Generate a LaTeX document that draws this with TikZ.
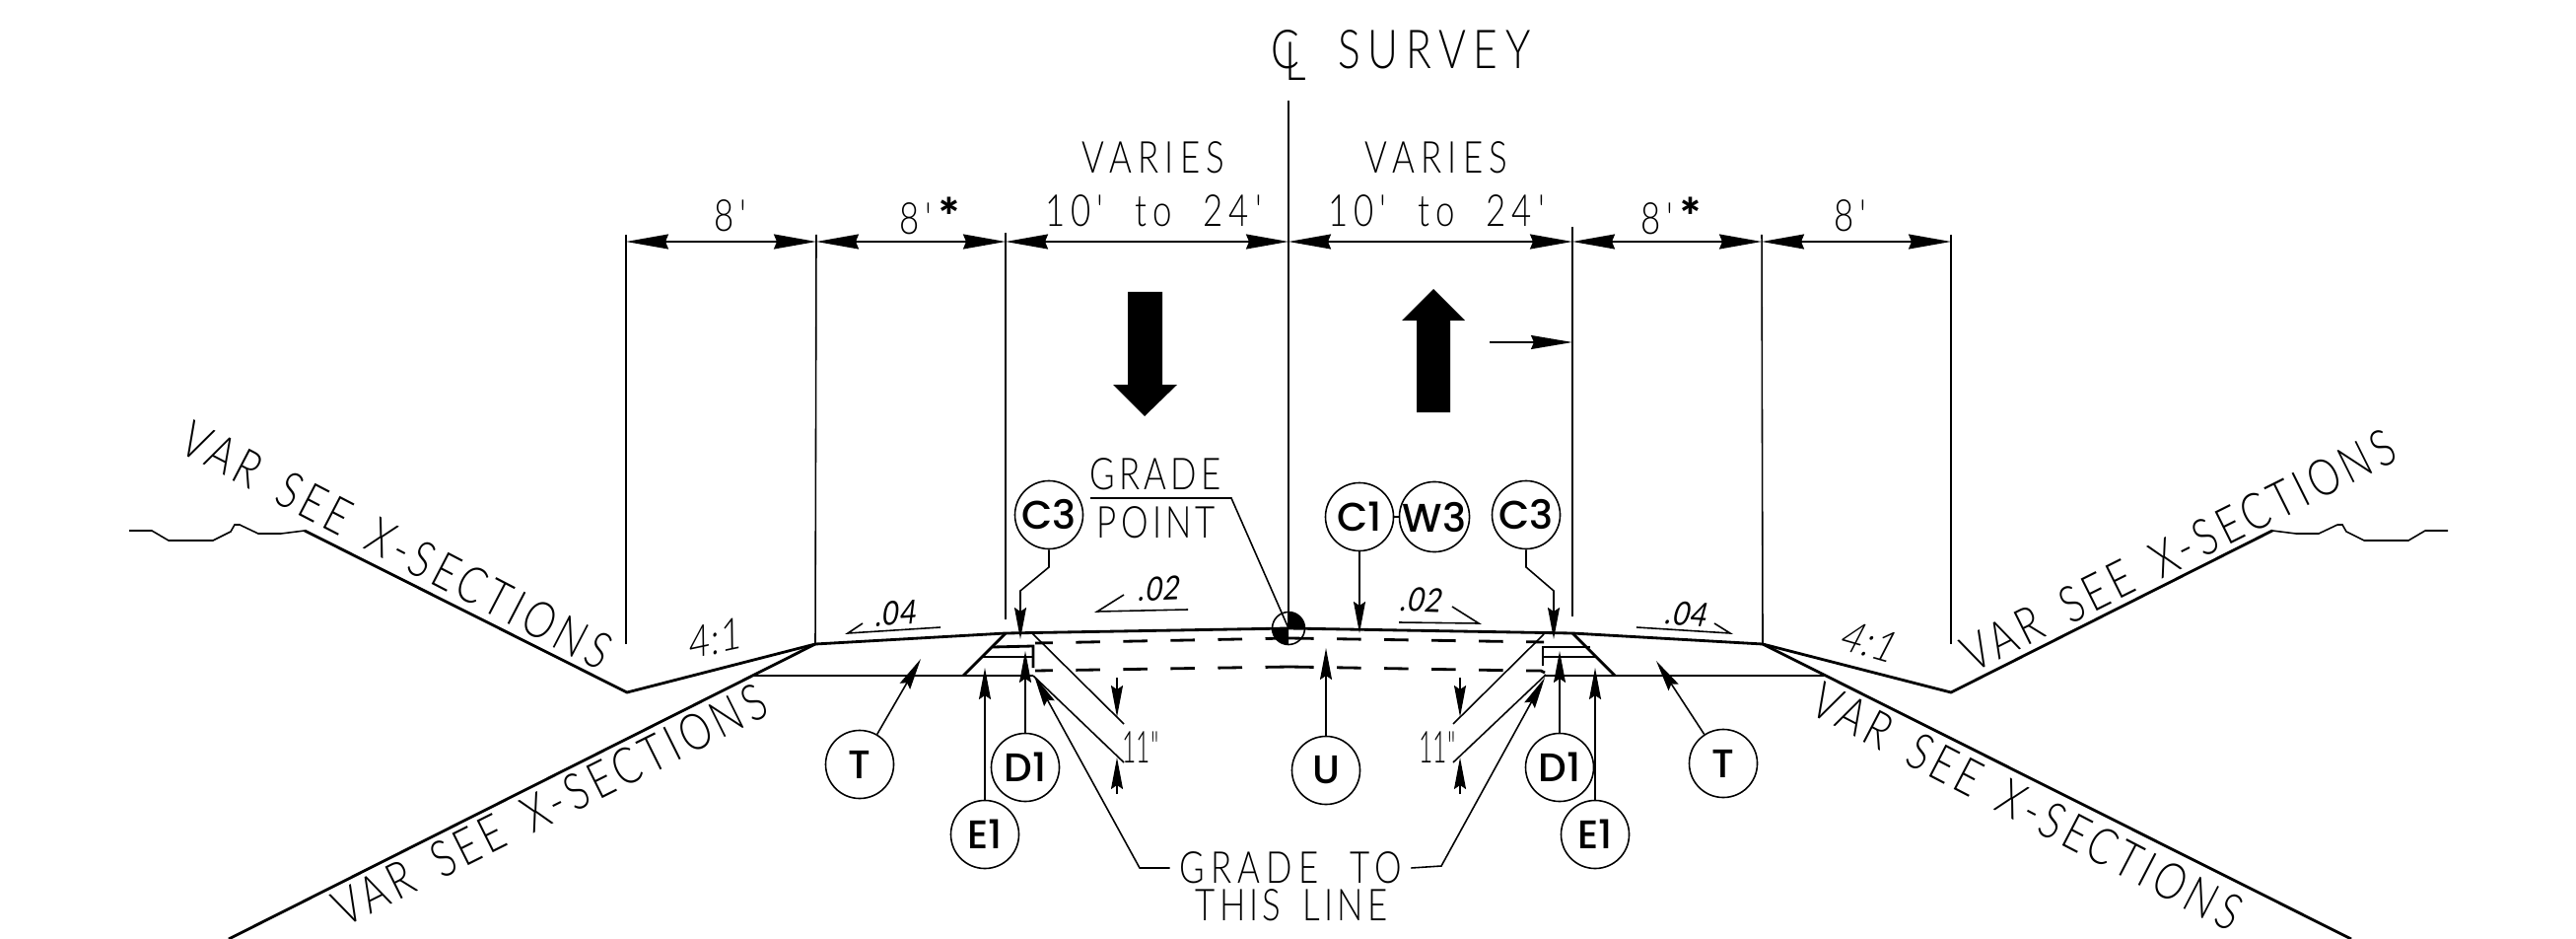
\documentclass[tikz,border=0pt]{standalone}
\usepackage{fontspec}
\usetikzlibrary{arrows.meta}
\newfontfamily\cadfont[FakeStretch=0.78,LetterSpace=14,WordSpace=2]{Lato Light}
\newfontfamily\notefont[FakeStretch=0.78,LetterSpace=9.5,WordSpace=1.6]{Lato Light}
\newfontfamily\depthfont[FakeStretch=0.55]{Lato Light}
\newfontfamily\slopefont[FakeStretch=0.85,LetterSpace=3,FakeSlant=0.2]{Lato}
\newfontfamily\ratiofont[FakeStretch=0.85,LetterSpace=3,FakeSlant=0.2]{Lato Light}
\newfontfamily\tagfont{Poppins Medium}
\newfontfamily\starfont{Lato Black}
\tikzset{
  thinln/.style={line width=0.45pt},
  baseln/.style={line width=0.6pt},
  roadln/.style={line width=0.8pt},
  dimln/.style={thinln,{Stealth[length=0.43cm,width=0.15cm,inset=0.03cm]}-{Stealth[length=0.43cm,width=0.15cm,inset=0.03cm]}},
  flagln/.style={thinln,-{Stealth[length=0.42cm,width=0.14cm,inset=0.03cm]}},
  leader/.style={thinln,-{Stealth[length=0.32cm,width=0.12cm,inset=0.04cm]}},
  tagnode/.style={draw,circle,thinln,minimum size=0.69cm,inner sep=0pt,font=\tagfont\fontsize{11.5pt}{13pt}\selectfont},
  cadtext/.style={inner sep=0pt,font=\cadfont\fontsize{12.7pt}{14pt}\selectfont},
  cadnarrow/.style={inner sep=0pt,font=\notefont\fontsize{12.7pt}{14pt}\selectfont},
  cadbig/.style={inner sep=0pt,font=\cadfont\fontsize{15.5pt}{17pt}\selectfont},
  notetext/.style={inner sep=0pt,font=\notefont\fontsize{14.6pt}{16pt}\selectfont},
  slopetext/.style={inner sep=0pt,font=\slopefont\fontsize{9.5pt}{11pt}\selectfont},
  ratiotext/.style={inner sep=0pt,font=\ratiofont\fontsize{12.5pt}{14pt}\selectfont},
  wayarrow/.style={fill=black,draw=none},
}
\newcommand{\stardot}{{\starfont\fontsize{14pt}{14pt}\selectfont*}}
\begin{document}
\begin{tikzpicture}[x=0.01cm,y=-0.01cm]
\useasboundingbox (0,0) rectangle (2613,952);

% dimension stations
\coordinate (d0) at (635,245);
\coordinate (d1) at (828,245);
\coordinate (d2) at (1020,245);
\coordinate (d3) at (1307,245);
\coordinate (d4) at (1595,245);
\coordinate (d5) at (1787,245);
\coordinate (d6) at (1979,245);

% section points
\coordinate (ditchL) at (636,702);
\coordinate (shoulderL) at (827,653);
\coordinate (edgeL) at (1020,642);
\coordinate (crown) at (1307,637);
\coordinate (edgeR) at (1595,642);
\coordinate (shoulderR) at (1788,653);
\coordinate (ditchR) at (1979,702);
\coordinate (toeL) at (309,538);
\coordinate (toeR) at (2305,538);
\coordinate (baseL) at (977,685);
\coordinate (baseR) at (1638,685);

% extension lines
\draw[thinln] (635,238) -- (635,653);
\draw[thinln] (828,238) -- (shoulderL);
\draw[thinln] (1020,236) -- (1020,628);
\draw[thinln] (1307,102) -- (crown);
\draw[thinln] (1595,230) -- (1595,625);
\draw[thinln] (1787,238) -- (shoulderR);
\draw[thinln] (1979,238) -- (1979,653);

% dimensions
\draw[dimln] (d0) -- (d1);
\draw[dimln] (d1) -- (d2);
\draw[dimln] (d2) -- (d3);
\draw[dimln] (d3) -- (d4);
\draw[dimln] (d4) -- (d5);
\draw[dimln] (d5) -- (d6);

\node[cadtext] (w0) at (741,219) {8'};
\node[cadtext] (w1) at (943,219) {8'\,\stardot};
\node[cadtext] (w2) at (1170,214) {10' to 24'};
\node[cadtext] (v2) at (1170,160) {VARIES};
\node[cadtext] (w3) at (1457,214) {10' to 24'};
\node[cadtext] (v3) at (1457,160) {VARIES};
\node[cadtext] (w4) at (1695,219) {8'\,\stardot};
\node[cadtext] (w5) at (1877,219) {8'};

% centerline title
\node[cadbig] (clc) at (1304,50) {C};
\node[cadbig] (cll) at (1314,62) {L};
\node[cadbig] (survey) at (1455,50) {SURVEY};

% direction of travel
\fill[wayarrow] (1144,296) -- (1179,296) -- (1179,390) -- (1194,390) -- (1161,422) -- (1129,390) -- (1144,390) -- cycle;
\fill[wayarrow] (1437,418) -- (1471,418) -- (1471,325) -- (1486,325) -- (1454,293) -- (1422,325) -- (1437,325) -- cycle;
\coordinate (flagS) at (1511,347);
\coordinate (flagE) at (1595,347);
\draw[flagln] (flagS) -- (flagE);

% ground and slopes
\draw[thinln] (131,538) -- (154,538) -- (171,548) -- (216,548) -- (234,539) -- (238,532) -- (243,532) -- (262,541) -- (285,541) -- (toeL);
\draw[thinln] (toeR) -- (2329,541) -- (2352,541) -- (2371,532) -- (2376,532) -- (2380,539) -- (2398,548) -- (2443,548) -- (2460,538) -- (2483,538);
\draw[roadln] (toeL) -- (ditchL) -- (shoulderL) -- (edgeL) -- (crown) -- (edgeR) -- (shoulderR) -- (ditchR) -- (toeR);
\draw[roadln] (232,952) -- (shoulderL);
\draw[roadln] (shoulderR) -- (2385,952);
\draw[baseln] (765,685) -- (1048,685);
\draw[baseln] (1566,685) -- (1850,685);

% pavement layers at the left edge
\draw[roadln] (baseL) -- (edgeL);
\draw[roadln] (1007,656) -- (1048,655) -- (1048,677);
\draw[roadln] (995,666) -- (1048,666);
\draw[thinln] (1047,642) -- (1140,734);
\draw[thinln] (1048,685) -- (1140,773);

% pavement layers at the right edge
\draw[roadln] (baseR) -- (edgeR);
\draw[roadln] (1613,656) -- (1565,656) -- (1565,675);
\draw[roadln] (1620,666) -- (1565,666);
\draw[thinln] (1566,643) -- (1474,734);
\draw[thinln] (1568,684) -- (1474,773);

% subgrade dashes
\draw[roadln,dash pattern=on 0.245cm off 0.235cm] (1308,647) -- (1050,652);
\draw[roadln,dash pattern=on 0.245cm off 0.235cm] (1308,647) -- (1566,651);
\draw[roadln,dash pattern=on 0.245cm off 0.235cm] (1308,676) -- (1050,680);
\draw[roadln,dash pattern=on 0.245cm off 0.235cm] (1308,676) -- (1548,680);
\draw[roadln] (1548,680) -- (1563,680) -- (1567,682);

% grade point
\node[draw,circle,thinln,minimum size=0.33cm,inner sep=0pt] (gradept) at (1307,637) {};
\fill (gradept.center) -- ++(16.5,0) arc[start angle=0,end angle=90,radius=0.165cm] -- cycle;
\fill (gradept.center) -- ++(-16.5,0) arc[start angle=180,end angle=270,radius=0.165cm] -- cycle;
\node[cadnarrow] (gradeA) at (1172,481) {GRADE};
\node[cadnarrow] (gradeB) at (1173,530) {POINT};
\draw[thinln] (1106,505) -- (1249,505) -- (gradept.center);

% slopes
\draw[thinln] (1140,603) -- (1113,620) -- (1205,618);
\node[slopetext,rotate=2] (sl2) at (1174,597) {.02};
\draw[thinln] (1473,615) -- (1500,632) -- (1419,631);
\node[slopetext,rotate=-2] (sr2) at (1440,608) {.02};
\draw[thinln] (875,632) -- (860,642) -- (954,636);
\node[slopetext,rotate=4] (sl4) at (907,622) {.04};
\draw[thinln] (1739,632) -- (1755,642) -- (1660,636);
\node[slopetext,rotate=-4] (sr4) at (1709,622) {.04};
\node[ratiotext,rotate=12] (ratioL) at (723,648) {4:1};
\node[ratiotext,rotate=-16] (ratioR) at (1894,650) {4:1};

% slope notes
\node[notetext,rotate=-27.5] (noteA) at (402,553) {VAR SEE X-SECTIONS};
\node[notetext,rotate=26.5] (noteB) at (558,816) {VAR SEE X-SECTIONS};
\node[notetext,rotate=26.5] (noteC) at (2210,558) {VAR SEE X-SECTIONS};
\node[notetext,rotate=-27.5] (noteD) at (2056,818) {VAR SEE X-SECTIONS};

% tags
\node[tagnode] (c3l) at (1064,522) {C3};
\node[tagnode] (c3r) at (1548,522) {C3};
\node[tagnode] (c1) at (1379,524) {C1};
\node[tagnode] (w3) at (1455,524) {W3};
\node[tagnode] (tl) at (872,775) {T};
\node[tagnode] (tr) at (1748,774) {T};
\node[tagnode] (d1l) at (1040,778) {D1};
\node[tagnode] (d1r) at (1582,778) {D1};
\node[tagnode] (e1l) at (999,846) {E1};
\node[tagnode] (e1r) at (1618,846) {E1};
\node[tagnode] (u) at (1345,781) {U};

\coordinate (c3ltip) at (1035,648);
\coordinate (c3rtip) at (1576,648);
\coordinate (c1tip) at (1379,642);
\coordinate (tltip) at (934,668);
\coordinate (trtip) at (1680,670);
\coordinate (d1ltip) at (1040,660);
\coordinate (d1rtip) at (1582,660);
\coordinate (e1ltip) at (999,677);
\coordinate (e1rtip) at (1618,677);
\coordinate (utip) at (1345,657);

\draw[leader] (c3l) -- (1064,575) -- (1035,599) -- (c3ltip);
\draw[leader] (c3r) -- (1548,575) -- (1576,599) -- (c3rtip);
\draw[leader] (c1) -- (c1tip);
\draw[thinln] (c1) -- (w3);
\draw[leader] (tl) -- (tltip);
\draw[leader] (tr) -- (trtip);
\draw[leader] (d1l) -- (d1ltip);
\draw[leader] (d1r) -- (d1rtip);
\draw[leader] (e1l) -- (e1ltip);
\draw[leader] (e1r) -- (e1rtip);
\draw[leader] (u) -- (utip);

% depth of layer
\coordinate (tkAl) at (1133,687);
\coordinate (tkBl) at (1133,727);
\coordinate (tkCl) at (1133,768);
\coordinate (tkDl) at (1133,805);
\coordinate (tkAr) at (1481,687);
\coordinate (tkBr) at (1481,727);
\coordinate (tkCr) at (1481,768);
\coordinate (tkDr) at (1481,805);
\draw[leader] (tkAl) -- (tkBl);
\draw[leader] (tkDl) -- (tkCl);
\draw[leader] (tkAr) -- (tkBr);
\draw[leader] (tkDr) -- (tkCr);
\node[inner sep=0pt,font=\depthfont\fontsize{12.7pt}{14pt}\selectfont] (depthL) at (1157,758) {11"};
\node[inner sep=0pt,font=\depthfont\fontsize{12.7pt}{14pt}\selectfont] (depthR) at (1458,758) {11"};

% grade line note
\node[cadtext] (gradeC) at (1309,880) {GRADE TO};
\node[cadnarrow] (gradeD) at (1310,918) {THIS LINE};
\coordinate (gtl) at (1049,685);
\coordinate (gtr) at (1567,687);
\draw[leader] ([xshift=-0.09cm]gradeC.west) -- (1156,880) -- (gtl);
\draw[leader] ([xshift=0.09cm]gradeC.east) -- (1462,878) -- (gtr);
\end{tikzpicture}
\end{document}
